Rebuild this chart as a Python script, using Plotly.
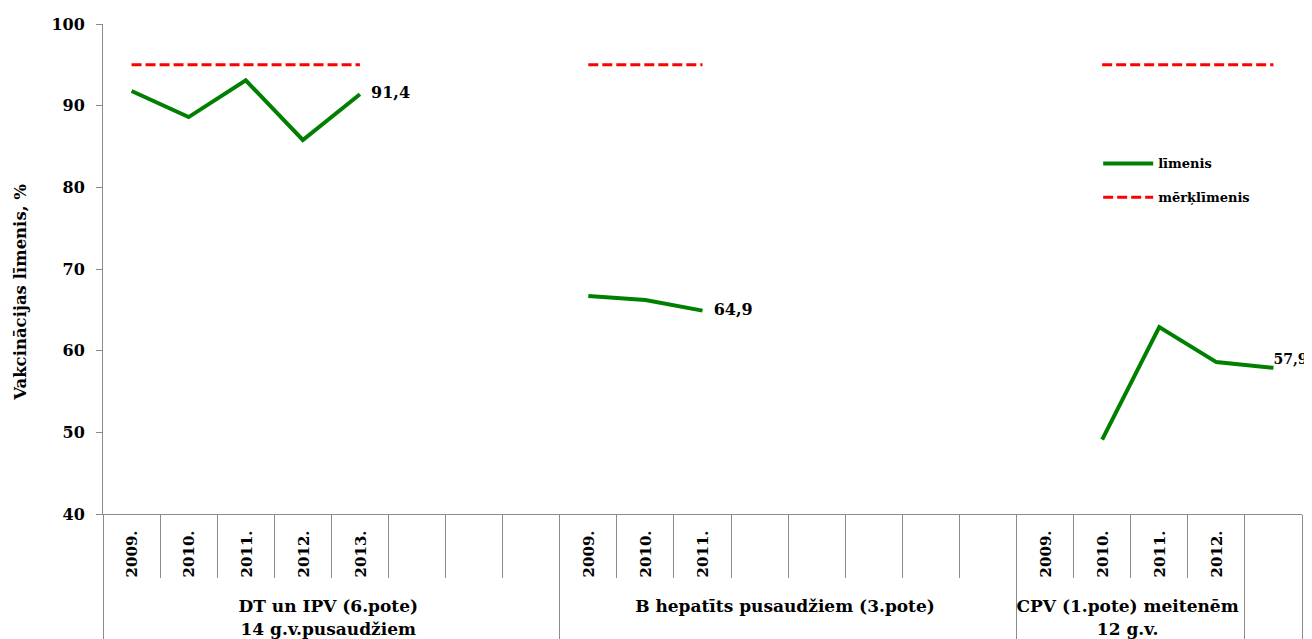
import plotly.graph_objects as go

# ---- data ----
group_names = ["DT un IPV (6.pote)|14 g.v.pusaudžiem",
               "B hepatīts pusaudžiem (3.pote)",
               "CPV (1.pote) meitenēm|12 g.v.",
               " "]
group_sizes = [8, 8, 4, 1]
years = ["2009.", "2010.", "2011.", "2012.", "2013.", " ", "  ", "   ",
         "2009.", "2010.", "2011.", " ", "  ", "   ", "    ", "     ",
         "2009.", "2010.", "2011.", "2012.",
         " "]
level = [91.8, 88.6, 93.1, 85.8, 91.4, None, None, None,
         66.7, 66.2, 64.9, None, None, None, None, None,
         None, 49.1, 62.9, 58.6,
         57.9]
target = [95, 95, 95, 95, 95, None, None, None,
          95, 95, 95, None, None, None, None, None,
          None, 95, 95, 95,
          95]
label_idx = [4, 10, 20]

series_names = ["līmenis", "mērķlīmenis"]
y_title = "Vakcinācijas līmenis, %"

FONT = "DejaVu Serif"
AX = "#8a8a8a"
NB = "\u00a0"
TH = "\u2009"
ZW = "\u200b"


def group_label(name):
    return "<br>".join(f"<span style='font-size:17px'>{part}</span>" for part in name.split("|"))


groups = []
for name, n in zip(group_names, group_sizes):
    groups += [group_label(name)] * n
# a trailing no-break space keeps the rotated year digits off the axis line
cats = [f"<span style='font-size:15px'>{y}{NB}{TH}</span>" for y in years]

texts = [""] * len(level)
positions = ["middle right"] * len(level)
sizes = [16] * len(level)
for i in label_idx:
    texts[i] = NB * 2 + f"{level[i]:.1f}".replace(".", ",")
texts[20] = f"{level[20]:.1f}".replace(".", ",")
positions[20] = "top right"
sizes[20] = 14

fig = go.Figure()
fig.add_trace(go.Scatter(
    x=[groups, cats], y=level, name=series_names[0],
    mode="lines+text", text=texts, textposition=positions,
    textfont=dict(family=FONT, size=sizes, color="#000000", weight="bold"),
    line=dict(color="#008000", width=4), connectgaps=False,
    cliponaxis=False, legendgroup="a",
))
fig.add_trace(go.Scatter(
    x=[groups, cats], y=target, name=series_names[1],
    mode="lines", line=dict(color="#ff0000", width=3, dash="10px,4px"),
    connectgaps=False, legendgroup="b",
))

fig.update_layout(
    width=1304, height=631,
    margin=dict(l=95, r=10, t=16, b=125, autoexpand=False),
    paper_bgcolor="white", plot_bgcolor="white",
    font=dict(family=FONT, size=15, color="#000000", weight="bold"),
    showlegend=True,
    legend=dict(x=0.83, y=0.746, xanchor="left", yanchor="top",
                font=dict(family=FONT, size=13, weight="bold"),
                tracegroupgap=14, traceorder="grouped", itemwidth=50,
                bgcolor="rgba(0,0,0,0)"),
)
fig.update_yaxes(
    range=[40, 100], dtick=10, showgrid=False, zeroline=False,
    showline=True, linecolor=AX, linewidth=1,
    ticks="outside", ticklen=6, tickcolor=AX, ticklabelstandoff=8,
    tickfont=dict(family=FONT, size=16, weight="bold"),
    title=dict(text=y_title + NB * 8 + ZW,
               font=dict(family=FONT, size=16.5, weight="bold"), standoff=20),
)
fig.update_xaxes(
    range=[-0.5, 20.5],
    showgrid=False, zeroline=False, showline=True, linecolor=AX, linewidth=1,
    ticks="outside", tickson="boundaries", ticklen=63, tickcolor=AX,
    tickangle=-90, showdividers=True, dividercolor=AX, dividerwidth=1,
    tickfont=dict(family=FONT, size=18, weight="bold"),
)

fig.write_html("out.html")
